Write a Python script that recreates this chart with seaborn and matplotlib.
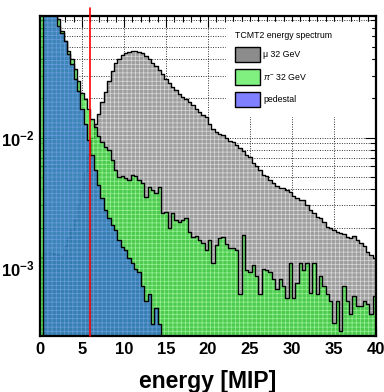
import numpy as np
import pandas as pd
import matplotlib
matplotlib.use("Agg")
import matplotlib.pyplot as plt
import seaborn as sns
from matplotlib.patches import Patch
from matplotlib.ticker import LogLocator, FixedLocator, FixedFormatter, MultipleLocator, NullFormatter

# ---- histogram contents: 100 bins of 0.4 MIP between 0 and 40 MIP ----
e_min, e_max, bin_width = 0.0, 40.0, 0.4

mu_32gev = [
    1.20e-3, 1.31e-3, 1.31e-3, 1.31e-3, 1.28e-3, 1.24e-3, 1.22e-3, 1.46e-3, 1.68e-3, 1.94e-3,
    2.31e-3, 3.03e-3, 3.95e-3, 5.45e-3, 7.38e-3, 1.00e-2, 1.26e-2, 1.51e-2, 1.87e-2, 2.23e-2,
    2.72e-2, 3.25e-2, 3.75e-2, 4.03e-2, 4.32e-2, 4.48e-2, 4.56e-2, 4.64e-2, 4.64e-2, 4.56e-2,
    4.48e-2, 4.25e-2, 4.03e-2, 3.75e-2, 3.55e-2, 3.31e-2, 3.08e-2, 2.82e-2, 2.62e-2, 2.44e-2,
    2.31e-2, 2.15e-2, 2.04e-2, 1.97e-2, 1.87e-2, 1.77e-2, 1.65e-2, 1.56e-2, 1.48e-2, 1.43e-2,
    1.28e-2, 1.17e-2, 1.11e-2, 1.07e-2, 1.04e-2, 1.00e-2, 9.48e-3, 9.31e-3, 8.83e-3, 8.37e-3,
    7.93e-3, 7.38e-3, 7.13e-3, 6.40e-3, 6.07e-3, 5.65e-3, 5.17e-3, 5.08e-3, 4.72e-3, 4.48e-3,
    4.25e-3, 4.10e-3, 4.10e-3, 3.95e-3, 3.81e-3, 3.55e-3, 3.43e-3, 3.31e-3, 3.31e-3, 3.03e-3,
    2.77e-3, 2.62e-3, 2.44e-3, 2.40e-3, 2.23e-3, 2.04e-3, 2.01e-3, 1.94e-3, 1.87e-3, 1.84e-3,
    1.80e-3, 1.71e-3, 1.68e-3, 1.74e-3, 1.62e-3, 1.54e-3, 1.46e-3, 1.31e-3, 1.24e-3, 1.18e-3,
]

pi_32gev = [
    3.00e-1, 2.00e-1, 1.50e-1, 1.20e-1, 1.00e-1, 8.20e-2, 6.63e-2, 5.55e-2, 4.64e-2, 4.03e-2,
    3.37e-2, 2.72e-2, 2.19e-2, 1.97e-2, 1.65e-2, 1.38e-2, 1.20e-2, 1.02e-2, 9.31e-3, 8.52e-3,
    8.07e-3, 6.75e-3, 5.65e-3, 4.99e-3, 5.08e-3, 4.90e-3, 4.72e-3, 5.17e-3, 5.08e-3, 4.72e-3,
    4.48e-3, 3.49e-3, 4.17e-3, 3.95e-3, 3.75e-3, 4.17e-3, 2.62e-3, 2.67e-3, 2.01e-3, 2.62e-3,
    2.31e-3, 2.23e-3, 2.31e-3, 2.40e-3, 1.87e-3, 1.71e-3, 1.74e-3, 1.62e-3, 1.54e-3, 1.36e-3,
    1.62e-3, 1.09e-3, 1.48e-3, 1.68e-3, 1.71e-3, 1.51e-3, 1.40e-3, 1.40e-3, 1.36e-3, 6.29e-4,
    1.77e-3, 9.48e-4, 9.15e-4, 1.04e-3, 8.67e-4, 6.29e-4, 9.82e-4, 9.48e-4, 9.15e-4, 8.22e-4,
    6.87e-4, 8.22e-4, 7.25e-4, 5.85e-4, 1.09e-3, 5.85e-4, 7.66e-4, 1.09e-3, 9.48e-4, 1.09e-3,
    6.40e-4, 1.09e-3, 6.29e-4, 8.67e-4, 7.25e-4, 6.29e-4, 5.55e-4, 3.75e-4, 5.55e-4, 3.25e-4,
    7.25e-4, 5.55e-4, 4.40e-4, 6.07e-4, 5.07e-4, 5.07e-4, 5.55e-4, 5.26e-4, 4.40e-4, 6.07e-4,
]

pedestal = [
    0.0, 3.00e-1, 4.00e-1, 2.50e-1, 1.50e-1, 7.25e-2, 6.40e-2, 5.55e-2, 4.40e-2, 3.68e-2,
    2.82e-2, 2.27e-2, 1.65e-2, 1.26e-2, 9.65e-3, 7.38e-3, 5.65e-3, 4.32e-3, 3.43e-3, 2.77e-3,
    2.40e-3, 2.12e-3, 1.94e-3, 1.62e-3, 1.43e-3, 1.36e-3, 1.18e-3, 1.09e-3, 9.82e-4, 9.15e-4,
    7.25e-4, 5.55e-4, 6.29e-4, 3.68e-4, 4.90e-4, 3.68e-4, 0.0, 0.0, 0.0, 0.0,
] + [0.0] * 60

series_labels = ["\u03bc 32 GeV", r"$\pi^{-}$ 32 GeV", "pedestal"]
legend_title = "TCMT2 energy spectrum"
cut_energy = 6.0
cut_top = 0.1

y_limits = (2.97e-4, 0.0861)
x_ticks = [0, 5, 10, 15, 20, 25, 30, 35, 40]
y_ticks = [1e-3, 1e-2]
y_tick_labels = [r"$\mathbf{10^{-3}}$", r"$\mathbf{10^{-2}}$"]

n_bins = len(mu_32gev)
centers = e_min + bin_width * (np.arange(n_bins) + 0.5)
hist = pd.DataFrame({"energy": centers, "mu": mu_32gev, "pi": pi_32gev, "ped": pedestal})

# ---- style ----
sns.set_style("ticks")
plt.rcParams["font.family"] = ["Liberation Sans", "DejaVu Sans"]
plt.rcParams["mathtext.fontset"] = "custom"
plt.rcParams["mathtext.rm"] = "Liberation Sans"
plt.rcParams["mathtext.it"] = "Liberation Sans:italic"
plt.rcParams["mathtext.bf"] = "Liberation Sans:bold"
plt.rcParams["hatch.linewidth"] = 0.5
plt.rcParams["text.color"] = "black"
plt.rcParams["axes.labelcolor"] = "black"
plt.rcParams["xtick.color"] = "black"
plt.rcParams["ytick.color"] = "black"
plt.rcParams["axes.edgecolor"] = "black"

fig = plt.figure(figsize=(3.84, 3.92), dpi=100)
ax = fig.add_axes([40 / 384, 1 - 336 / 392, 336 / 384, 320 / 392])
ax.set_yscale("log")

styles = {
    "mu": dict(face=(0.62, 0.62, 0.62, 1.0), hatch=(0.85, 0.85, 0.85, 1.0)),
    "pi": dict(face=(0.20, 0.85, 0.20, 0.75), hatch=(0.75, 1.0, 0.75, 0.6)),
    "ped": dict(face=(0.18, 0.40, 0.82, 0.75), hatch=(0.55, 0.70, 1.0, 0.45)),
}

# each histogram is filled and outlined before the next one is stacked on top
for k, (col, st) in enumerate(styles.items()):
    z = 1.0 + 0.2 * k
    sns.histplot(data=hist, x="energy", weights=col, binwidth=bin_width,
                 binrange=(e_min, e_max), element="step", fill=True,
                 facecolor=st["face"], edgecolor=st["hatch"], linewidth=0,
                 hatch="++++", zorder=z, ax=ax)
    sns.histplot(data=hist, x="energy", weights=col, binwidth=bin_width,
                 binrange=(e_min, e_max), element="step", fill=False,
                 color="black", linewidth=1.0, zorder=z + 0.1, ax=ax)

# energy cut marker
ax.plot([cut_energy, cut_energy], [y_limits[0], cut_top], color="red",
        linewidth=1.2, clip_on=False, zorder=4)

ax.set_xlim(e_min, e_max)
ax.set_ylim(*y_limits)

# axes decoration
ax.xaxis.set_major_locator(FixedLocator(x_ticks))
ax.xaxis.set_minor_locator(MultipleLocator(1))
ax.yaxis.set_major_locator(FixedLocator(y_ticks))
ax.yaxis.set_major_formatter(FixedFormatter(y_tick_labels))
ax.yaxis.set_minor_locator(LogLocator(base=10, subs=np.arange(2, 10)))
ax.yaxis.set_minor_formatter(NullFormatter())
ax.tick_params(which="both", direction="in", top=True, right=True, width=0.8,
               color="black", labelcolor="black")
ax.tick_params(which="major", length=8, labelsize=12, pad=4)
ax.tick_params(which="minor", length=4)
for lab in ax.get_xticklabels():
    lab.set_fontweight("bold")
for sp in ax.spines.values():
    sp.set_linewidth(1.6)
    sp.set_color("black")

ax.grid(True, which="major", axis="x", linestyle=(0, (1, 1.5)), color="#333333", linewidth=0.7)
ax.grid(True, which="both", axis="y", linestyle=(0, (1, 1.5)), color="#333333", linewidth=0.7)

ax.set_ylabel("")
ax.set_xlabel("energy [MIP]", fontsize=16.5, fontweight="bold", labelpad=10, color="black")

handles = [
    Patch(facecolor="#8c8c8c", edgecolor="black", linewidth=1.0),
    Patch(facecolor="#80f080", edgecolor="black", linewidth=1.0),
    Patch(facecolor="#8080ff", edgecolor="black", linewidth=1.0),
]
leg = ax.legend(handles, series_labels, title=legend_title, loc="upper left",
                bbox_to_anchor=(0.555, 0.70, 0.43, 0.28), mode="expand",
                borderaxespad=0, fontsize=6.3, title_fontsize=6.3, frameon=True,
                fancybox=False, edgecolor="white", facecolor="white", framealpha=1,
                handlelength=2.8, handleheight=2.3, labelspacing=0.8,
                handletextpad=0.4, borderpad=1.0, alignment="left")
leg.set_zorder(3)

fig.savefig("out.png", dpi=100)
